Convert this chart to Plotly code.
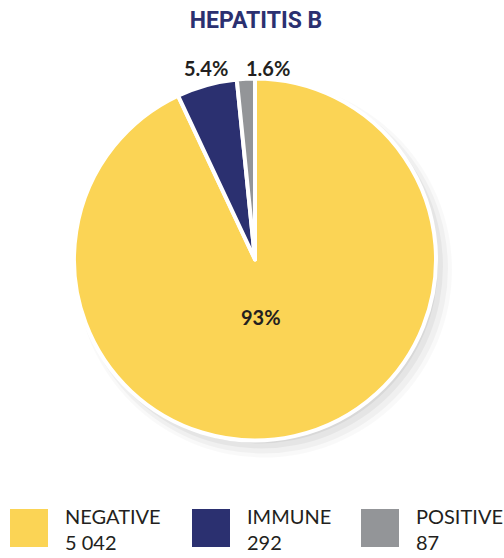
import plotly.graph_objects as go

categories = ["NEGATIVE", "IMMUNE", "POSITIVE"]
values = [5042, 292, 87]
value_labels = ["5 042", "292", "87"]
pct_labels = ["93%", "5.4%", "1.6%"]
colors = ["#FBD455", "#2B3070", "#939598"]

W, H = 504, 558
cx, cy, r = 255, 259.5, 181  # pixel geometry of pie


def px(x):
    return x / W


def py(y):
    return (H - y) / H


fig = go.Figure()
fig.add_trace(go.Pie(
    labels=categories,
    values=values,
    sort=False,
    direction="clockwise",
    rotation=0,
    marker=dict(colors=colors, line=dict(color="white", width=4)),
    textinfo="none",
    hoverinfo="label+value+percent",
    showlegend=False,
    domain=dict(x=[px(cx - r), px(cx + r)], y=[py(cy + r), py(cy - r)]),
))

shapes = []
# soft shadow towards the bottom right
for dr, op, ox, oy in [(-2, 0.05, 4, 5), (1, 0.045, 6, 7), (4, 0.035, 8, 9), (7, 0.025, 9, 10)]:
    shapes.append(dict(
        type="circle", xref="paper", yref="paper", layer="below",
        x0=px(cx + ox - r - dr), x1=px(cx + ox + r + dr),
        y0=py(cy + oy + r + dr), y1=py(cy + oy - r - dr),
        fillcolor="rgba(0,0,0,1)", opacity=op, line=dict(width=0),
    ))

annotations = []
# slice labels
label_pos = [(261, 317), (206, 68), (267.5, 68)]
for txt, (lx, ly) in zip(pct_labels, label_pos):
    annotations.append(dict(
        text="<b>" + txt + "</b>", x=px(lx), y=py(ly), xref="paper", yref="paper",
        showarrow=False, xanchor="center", yanchor="middle",
        font=dict(family="Lato", size=20, color="#231F20"),
    ))

# custom legend
swatch_x = [10, 192, 361]
text_x = [63, 245, 414]
for cat, vl, col, sx, tx in zip(categories, value_labels, colors, swatch_x, text_x):
    shapes.append(dict(
        type="rect", xref="paper", yref="paper",
        x0=px(sx), x1=px(sx + 38), y0=py(547), y1=py(509),
        fillcolor=col, line=dict(width=0),
    ))
    annotations.append(dict(
        text=cat + "<br>" + vl, x=px(tx), y=py(502), xref="paper", yref="paper",
        showarrow=False, xanchor="left", yanchor="top", align="left",
        font=dict(family="Lato", size=20, color="#231F20"),
    ))

fig.update_layout(
    width=W, height=H,
    margin=dict(l=0, r=0, t=0, b=0),
    paper_bgcolor="white", plot_bgcolor="white",
    title=dict(
        text="<b>HEPATITIS B</b>", x=px(256), xanchor="center",
        y=py(20), yanchor="middle",
        font=dict(family="Roboto", size=23, color="#2B3070"),
    ),
    shapes=shapes,
    annotations=annotations,
)

fig.write_html("out.html", config={"displayModeBar": False},
               post_script="document.body.style.margin='0';")
